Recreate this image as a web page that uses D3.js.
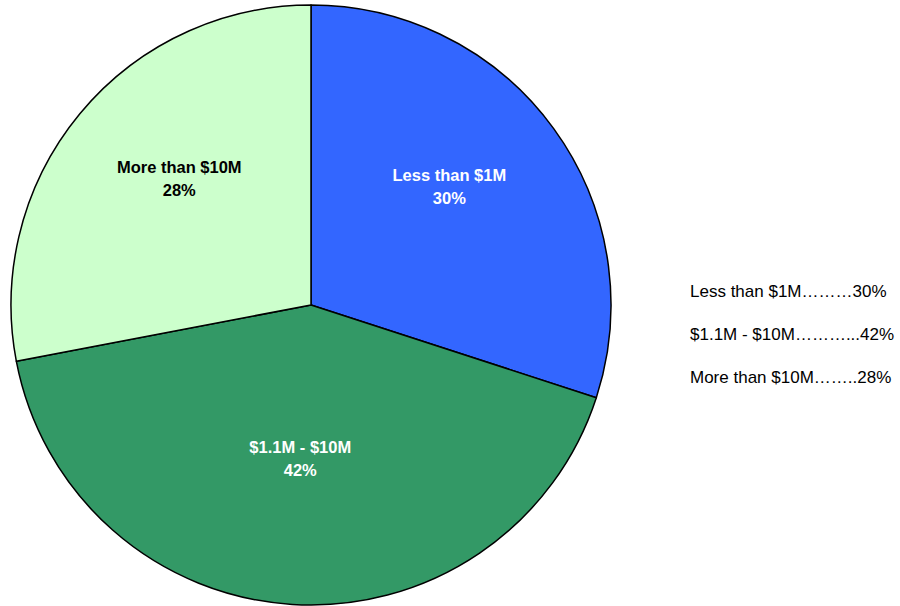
<!DOCTYPE html>
<html><head><meta charset="utf-8">
<script src="https://cdn.jsdelivr.net/npm/d3@7"></script>
<style>body{margin:0;background:#fff;}svg{display:block;}</style>
</head><body>
<svg id="c" width="900" height="606"></svg>
<script>
const categories = ["Less than $1M", "$1.1M - $10M", "More than $10M"];
const values = [30, 42, 28];
const colors = ["#3366FF", "#339966", "#CCFFCC"];
const labelColors = ["#ffffff", "#ffffff", "#000000"];
const legendLabels = ["Less than $1M\u2026\u2026\u202630%", "$1.1M - $10M\u2026\u2026\u2026...42%", "More than $10M\u2026\u2026..28%"];

const svg = d3.select("#c");
const cx = 311, cy = 305, r = 300;
const g = svg.append("g").attr("transform", `translate(${cx},${cy})`);
const pie = d3.pie().sort(null).value(d => d);
const arcs = pie(values);
const arc = d3.arc().innerRadius(0).outerRadius(r);
g.selectAll("path").data(arcs).enter().append("path")
  .attr("d", arc).attr("fill", (d,i) => colors[i])
  .attr("stroke", "#000").attr("stroke-width", 1.5).attr("stroke-linejoin","round");

const labelArc = d3.arc().innerRadius(0).outerRadius(r * 1.14);
const lbl = g.selectAll("text.l").data(arcs).enter().append("text")
  .attr("class","l")
  .attr("transform", d => `translate(${labelArc.centroid(d)})`)
  .attr("text-anchor","middle")
  .attr("font-family","'Liberation Sans', Arial, sans-serif")
  .attr("font-weight","bold").attr("font-size","16.5px")
  .attr("fill", (d,i) => labelColors[i]);
lbl.append("tspan").attr("x",0).attr("y",-23).text((d,i) => categories[i]);
lbl.append("tspan").attr("x",0).attr("y",0).text(d => d.data + "%");

const ly = d3.scalePoint().domain(d3.range(legendLabels.length)).range([297, 383]);
svg.selectAll("text.lg").data(legendLabels).enter().append("text")
  .attr("class","lg").attr("x", 690).attr("y", (d,i) => ly(i))
  .attr("font-family","'Liberation Sans', Arial, sans-serif")
  .attr("font-size","17px").attr("fill","#000").text(d => d);
</script>
</body></html>
